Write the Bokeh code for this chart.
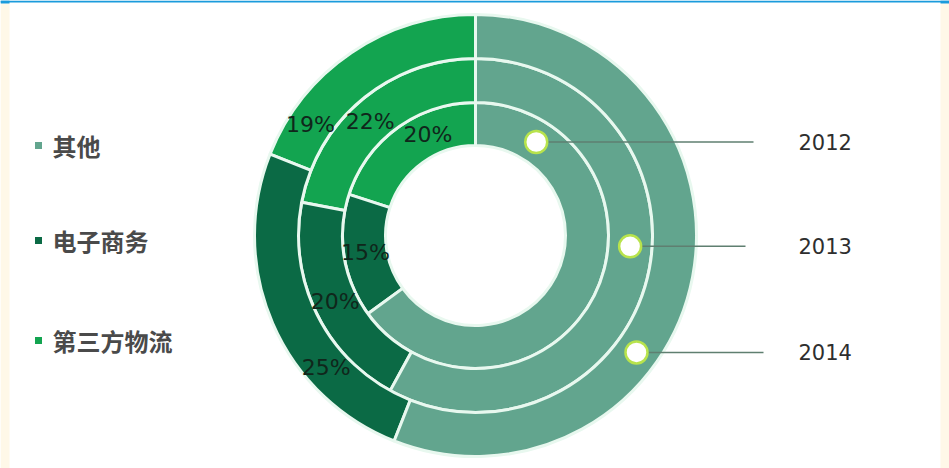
import math
from bokeh.plotting import figure
from bokeh.models import Range1d, ColumnDataSource
from bokeh.core.properties import value
from bokeh.embed import file_html
from bokeh.resources import INLINE

# ---------------- data ----------------
years = ["2012", "2013", "2014"]              # inner -> outer ring
categories = ["第三方物流", "电子商务", "其他"]  # drawn counter-clockwise from 12 o'clock
share_3pl = [20, 22, 19]
share_ec = [15, 20, 25]
share_other = [65, 58, 56]
legend_order = ["其他", "电子商务", "第三方物流"]

# ---------------- style / layout ----------------
W, H = 949, 468
colors = {"第三方物流": "#13a450", "电子商务": "#0b6a45", "其他": "#62a58e"}
sep_color = "#e8f8ef"
CX, CY_PX = 475, 235
ring_edges = [90, 133, 177, 221]
label_frac_3pl = [0.35, 0.54, 0.82]
label_frac_ec = [0.5, 0.5, 0.70]
marker_angle = [57, -4, -36]
line_end_x = [753, 745, 763]
year_text_x = 798
legend_y_px = [145, 240, 340]


def py(ypx):
    return H - ypx


CY = py(CY_PX)

p = figure(width=W, height=H, output_backend="svg", toolbar_location=None,
           x_range=Range1d(0, W), y_range=Range1d(0, H),
           min_border=0, min_border_left=0, min_border_right=0,
           min_border_top=0, min_border_bottom=0)
p.axis.visible = False
p.grid.visible = False
p.outline_line_color = None
p.background_fill_color = "white"
p.border_fill_color = "white"

# frame decorations
p.quad(left=[0, W - 9], right=[9, W], bottom=[0, 0], top=[py(3), py(3)],
       fill_color="#fff8e8", line_color=None)
p.quad(left=[0], right=[W], bottom=[py(2)], top=[H], fill_color="#1a9bdc", line_color=None)
p.quad(left=[0, W - 9], right=[9, W], bottom=[py(3), py(3)], top=[H, H],
       fill_color="#1a9bdc", line_color=None)

# rings
xs, ys, inner, outer, starts, ends, fills = [], [], [], [], [], [], []
lab_x, lab_y, lab_t = [], [], []
for i, yr in enumerate(years):
    vals = [share_3pl[i], share_ec[i], share_other[i]]
    a = 90.0
    for j, cat in enumerate(categories):
        span = vals[j] / 100.0 * 360.0
        xs.append(CX); ys.append(CY)
        inner.append(ring_edges[i]); outer.append(ring_edges[i + 1])
        starts.append(math.radians(a)); ends.append(math.radians(a + span))
        fills.append(colors[cat])
        rmid = (ring_edges[i] + ring_edges[i + 1]) / 2
        if j < 2:
            frac = label_frac_3pl[i] if j == 0 else label_frac_ec[i]
            ang = math.radians(a + span * frac)
            lab_x.append(CX + rmid * math.cos(ang))
            lab_y.append(CY + rmid * math.sin(ang))
            lab_t.append(f"{vals[j]}%")
        a += span

src = ColumnDataSource(dict(x=xs, y=ys, ir=inner, orr=outer, s=starts, e=ends, c=fills))
p.annular_wedge(x="x", y="y", inner_radius="ir", outer_radius="orr",
                start_angle="s", end_angle="e", fill_color="c",
                line_color=sep_color, line_width=3, source=src)

p.text(x=lab_x, y=lab_y, text=lab_t, text_font=value("DejaVu Sans"),
       text_font_size="22px", text_color="#10261b", text_align="center",
       text_baseline="middle")

# year markers
mx, my = [], []
for i, yr in enumerate(years):
    rmid = (ring_edges[i] + ring_edges[i + 1]) / 2
    ang = math.radians(marker_angle[i])
    mx.append(CX + rmid * math.cos(ang))
    my.append(CY + rmid * math.sin(ang))
p.segment(x0=mx, y0=my, x1=line_end_x, y1=my, line_color="#5f7f70", line_width=1.5)
p.scatter(x=mx, y=my, size=22, fill_color="white", line_color="#b8e34c", line_width=2.5)
p.text(x=[year_text_x] * 3, y=my, text=years, text_font=value("DejaVu Sans"),
       text_font_size="21px", text_color="#2e2e2e", text_align="left",
       text_baseline="middle")

# legend
ly = [py(v) for v in legend_y_px]
p.scatter(x=[38] * 3, y=ly, marker="square", size=7,
          fill_color=[colors[c] for c in legend_order], line_color=None)
p.text(x=[52] * 3, y=ly, text=legend_order, text_font=value("Noto Sans CJK SC"),
       text_font_size="24px", text_font_style="bold", text_color="#4a4a4a",
       text_align="left", text_baseline="middle")

open("out.html", "w").write(file_html(p, INLINE))
